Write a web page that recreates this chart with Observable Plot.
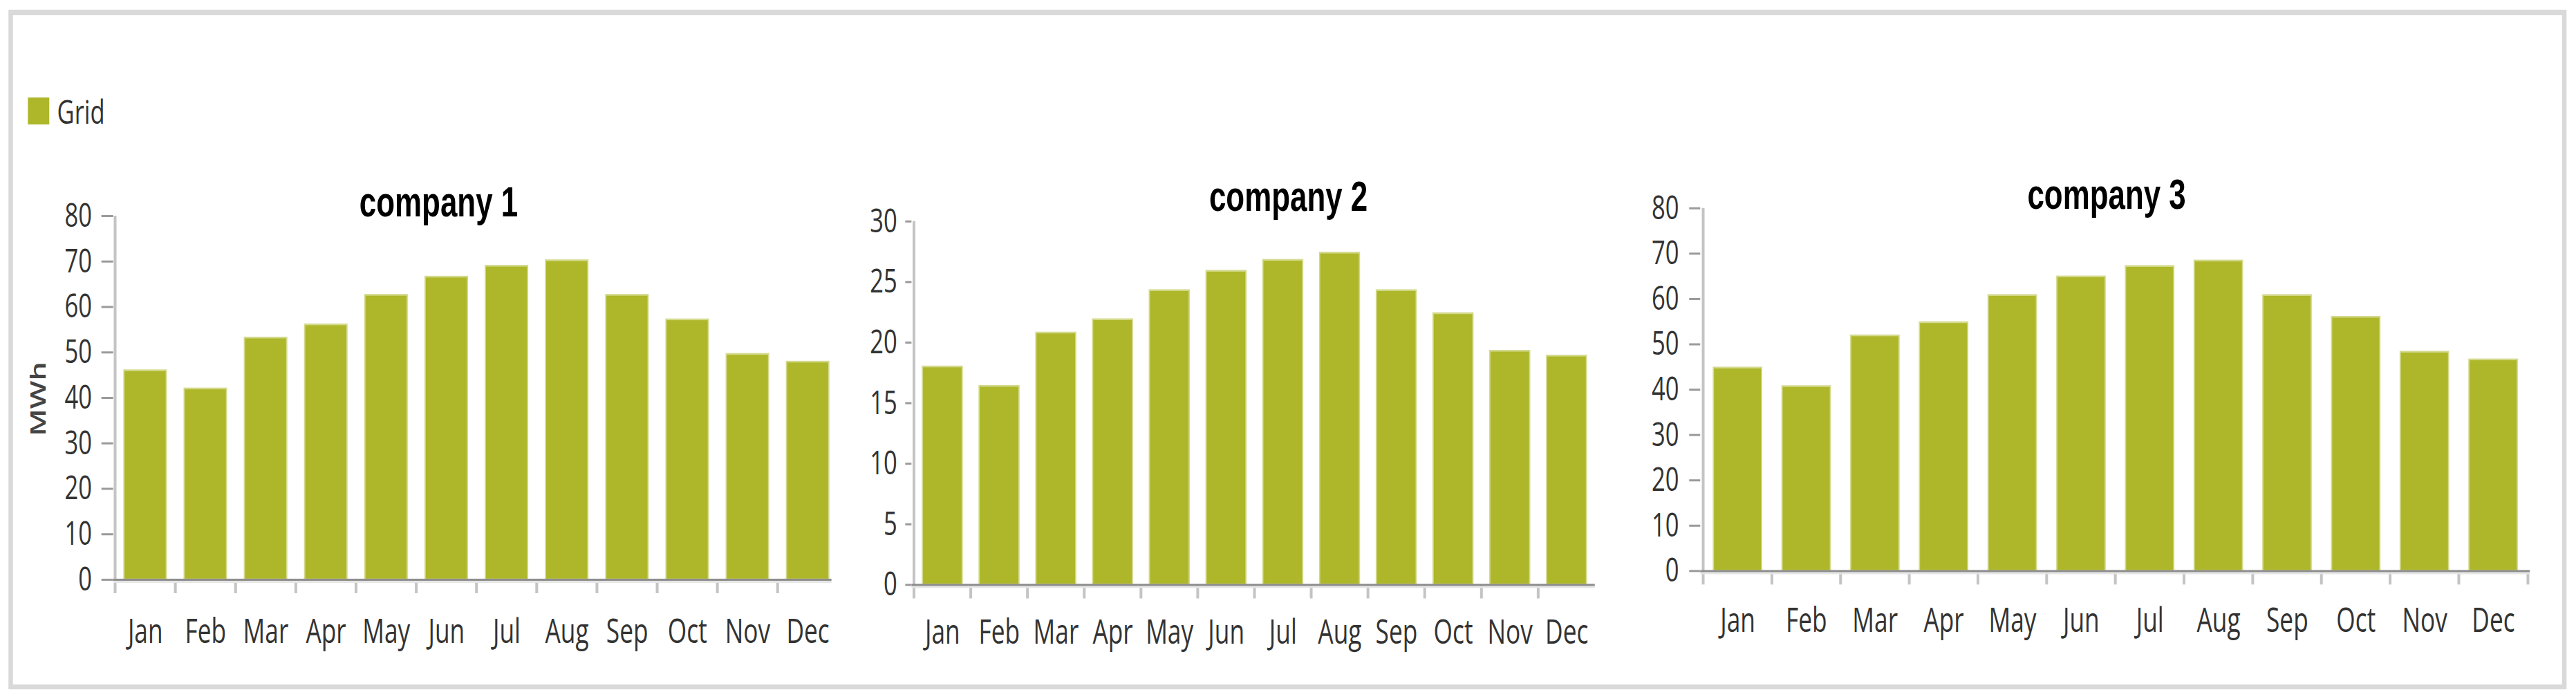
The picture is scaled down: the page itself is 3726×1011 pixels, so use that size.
<!DOCTYPE html>
<html>
<head>
<meta charset="utf-8">
<script src="https://cdn.jsdelivr.net/npm/d3@7"></script>
<script src="https://cdn.jsdelivr.net/npm/@observablehq/plot@0.6"></script>
<style>
html, body { margin: 0; padding: 0; background: #fff; overflow: hidden; width: 3726px; height: 1011px; }
#stage { position: absolute; left: 0; top: 0; width: 5175px; height: 1011px; transform: scaleX(0.72); transform-origin: 0 0; font-family: 'Open Sans', sans-serif; color: #333; }
.abs { position: absolute; }
</style>
</head>
<body>
<div id="stage"></div>
<script>
// ---- data ----
const months = ["Jan", "Feb", "Mar", "Apr", "May", "Jun", "Jul", "Aug", "Sep", "Oct", "Nov", "Dec"];
const company1 = [46.0, 42.0, 53.2, 56.1, 62.6, 66.6, 69.0, 70.2, 62.6, 57.2, 49.6, 47.9];
const company2 = [18.0, 16.4, 20.8, 21.9, 24.3, 25.9, 26.8, 27.4, 24.3, 22.4, 19.3, 18.9];
const company3 = [44.8, 40.7, 51.9, 54.8, 60.8, 64.9, 67.2, 68.4, 60.8, 56.0, 48.3, 46.6];
const titles = ["company 1", "company 2", "company 3"];
const ticks1 = [0, 10, 20, 30, 40, 50, 60, 70, 80];
const ticks2 = [0, 5, 10, 15, 20, 25, 30];
const ticks3 = [0, 10, 20, 30, 40, 50, 60, 70, 80];
const seriesName = "Grid";
const unitLabel = "MWh";

// ---- layout / style ----
const S = 0.72;                 // horizontal compression of the whole picture
const X = v => v / S;           // reference px -> stage px (horizontal)
const BAR = "#adb729", EDGE = "#d3d98c";
const stage = document.getElementById("stage");

function addDiv(styles, text) {
  const d = document.createElement("div");
  d.className = "abs";
  Object.assign(d.style, styles);
  if (text != null) d.textContent = text;
  stage.appendChild(d);
  return d;
}

// outer border
addDiv({left: X(12) + "px", top: "14px", width: X(3700) + "px", height: "983px",
  boxSizing: "border-box", borderStyle: "solid", borderColor: "#d9d9d9",
  borderWidth: `8px ${X(7)}px 7px ${X(7)}px`});

// legend
const leg = addDiv({left: X(40) + "px", top: "141px", height: "39px", display: "flex", alignItems: "center"});
const sw = document.createElement("span");
Object.assign(sw.style, {display: "inline-block", width: X(31) + "px", height: "39px", background: BAR});
const lt = document.createElement("span");
Object.assign(lt.style, {marginLeft: X(11.6) + "px", fontSize: "48px", lineHeight: "39px", color: "#333"});
lt.textContent = seriesName;
leg.appendChild(sw); leg.appendChild(lt);

// y unit label (left chart)
addDiv({left: (X(54) - 100) + "px", top: "547px", width: "200px", height: "60px", lineHeight: "60px",
  textAlign: "center", transform: "rotate(-90deg)", fontSize: "43px", fontWeight: "600", color: "#444"}, unitLabel);

const charts = [
  {title: titles[0], values: company1, ticks: ticks1, svgL: 20, svgR: 1225, svgT: 230, svgB: 960,
   frameL: 163.5, frameR: 1213.5, y0: 838, yTop: 312, tickLen: 17, tickGap: 14, labelPad: 57,
   lineInsetR: 11, endTick: false, titleX: 634, titleBase: 313},
  {title: titles[1], values: company2, ticks: ticks2, svgL: 1230, svgR: 2360, svgT: 230, svgB: 960,
   frameL: 1318.6, frameR: 2310, y0: 845.5, yTop: 319.8, tickLen: 9, tickGap: 12, labelPad: 50,
   lineInsetR: 3, endTick: false, titleX: 1863.5, titleBase: 305},
  {title: titles[2], values: company3, ticks: ticks3, svgL: 2370, svgR: 3700, svgT: 230, svgB: 960,
   frameL: 2459, frameR: 3659, y0: 825.4, yTop: 300.8, tickLen: 16, tickGap: 15, labelPad: 53,
   lineInsetR: 0, endTick: true, titleX: 3046.5, titleBase: 302}
];

for (const c of charts) {
  const rows = months.map((m, i) => ({month: m, value: c.values[i]}));
  const step = X((c.frameR - c.frameL) / 12);
  const yMax = c.ticks[c.ticks.length - 1];
  const sepStyle = {anchor: "bottom", tickSize: 20, tickFormat: () => "", stroke: "#c4c4c4", strokeWidth: X(4)};
  const marks = [
    Plot.barY(rows, {x: "month", y: "value", fill: BAR, stroke: EDGE, strokeWidth: 2.5}),
    Plot.ruleX(["Jan"], {x: d => d, y1: () => 0, y2: () => yMax, dx: -step / 2, stroke: "#c4c4c4", strokeWidth: X(4)}),
    Plot.axisX(months, {...sepStyle, dx: -step / 2})
  ];
  if (c.endTick) marks.push(Plot.axisX(["Dec"], {...sepStyle, dx: step / 2}));
  marks.push(
    Plot.ruleY([0], {stroke: "#e6e6e6", strokeWidth: 3, dy: 3, insetRight: X(c.lineInsetR)}),
    Plot.ruleY([0], {stroke: "#8c8c8c", strokeWidth: 3, insetRight: X(c.lineInsetR)}),
    Plot.axisY(c.ticks, {anchor: "left", tickSize: X(c.tickLen), tickPadding: X(c.tickGap),
      stroke: "#9a9a9a", strokeWidth: 3, fill: "#333", fontSize: 48}),
    Plot.axisX(months, {anchor: "bottom", tickSize: 0, tickPadding: c.labelPad, fill: "#333", fontSize: 49}),
    Plot.text([c.title], {frameAnchor: "top-left", dx: X(c.titleX - c.frameL), dy: c.titleBase - c.yTop,
      textAnchor: "middle", lineAnchor: "bottom", fontWeight: "bold", fontSize: 61,
      fontFamily: "'Liberation Sans', Arial, sans-serif", fill: "#000"})
  );
  const svg = Plot.plot({
    width: X(c.svgR - c.svgL),
    height: c.svgB - c.svgT,
    marginLeft: X(c.frameL - c.svgL),
    marginRight: X(c.svgR - c.frameR),
    marginTop: c.yTop - c.svgT,
    marginBottom: c.svgB - c.y0,
    style: {fontFamily: "'Open Sans', sans-serif", fontSize: "48px", color: "#333",
      background: "transparent", overflow: "visible", maxWidth: "none"},
    x: {type: "band", domain: months, paddingInner: 0.3, paddingOuter: 0.15, label: null},
    y: {domain: [0, yMax], label: null},
    marks
  });
  const wrap = addDiv({left: X(c.svgL) + "px", top: c.svgT + "px", width: X(c.svgR - c.svgL) + "px", height: (c.svgB - c.svgT) + "px"});
  wrap.appendChild(svg);
}
</script>
</body>
</html>
